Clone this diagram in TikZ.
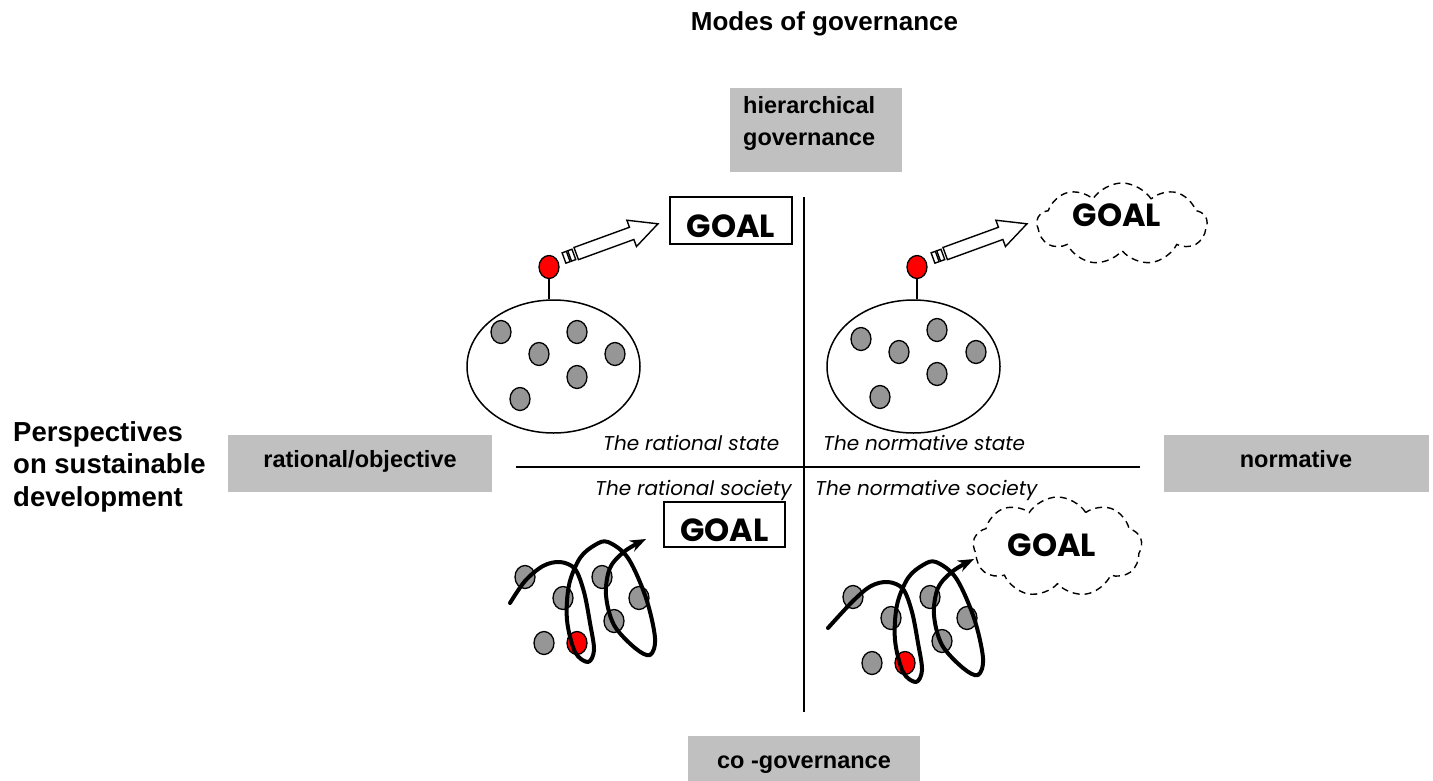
\documentclass[tikz,border=0pt]{standalone}
\usepackage{fontspec}
\setmainfont{Liberation Sans}
\newfontfamily\handfont{Poppins}
\usetikzlibrary{shapes.geometric,shapes.symbols,arrows.meta}
\definecolor{boxgray}{RGB}{192,192,192}
\definecolor{dotgray}{RGB}{150,150,150}
\definecolor{pinred}{RGB}{255,0,0}
\tikzset{
  gbox/.style={fill=boxgray, inner sep=0pt, text height=14pt, text depth=6pt,
    font=\bfseries\fontsize{23.5}{28}\selectfont},
  axisline/.style={line width=2.4pt},
  member/.style={ellipse, draw, line width=1.3pt, fill=dotgray,
    minimum width=20pt, minimum height=23pt, inner sep=0pt},
  leader/.style={member, fill=pinred},
  society/.style={ellipse, draw, line width=1.5pt, minimum width=173pt,
    minimum height=133pt, inner sep=0pt},
  goalbox/.style={draw, line width=1.5pt, inner sep=0pt, text height=33pt, text depth=0pt,
    font=\handfont\bfseries\fontsize{32}{38}\selectfont},
  goalcloud/.style={cloud, draw, cloud puffs=9, cloud puff arc=115, cloud ignores aspect,
    dash pattern=on 7pt off 5pt, line width=1.4pt, inner sep=0pt},
  goaltext/.style={font=\handfont\bfseries\fontsize{32}{38}\selectfont, inner sep=0pt, anchor=base},
  quadlabel/.style={font=\handfont\itshape\fontsize{20}{24}\selectfont, inner sep=0pt, anchor=base west},
  pathway/.style={line width=4pt, line cap=round, line join=round,
    -{Stealth[length=16pt,width=12pt]}},
  hollowarrow/.style={draw, fill=white, line width=1.4pt, line join=miter},
  stalk/.style={line width=1.3pt},
  pics/launcher/.style={code={
    \draw[hollowarrow] (0,-5.5) rectangle (4.5,5.5);
    \draw[hollowarrow] (6,-5.5) rectangle (10.5,5.5);
    \draw[hollowarrow] (13,-6.5) -- (72,-6.5) -- (72,-14) -- (100,0) -- (72,14)
      -- (72,6.5) -- (13,6.5) -- cycle;
  }},
}
\begin{document}
\begin{tikzpicture}[x=1pt,y=-1pt]
\useasboundingbox[fill=white] (0,0) rectangle (1433,780);

% headings
\node[font=\bfseries\fontsize{26}{30}\selectfont, anchor=base, inner sep=0pt] (title)
  at (824.5,30) {Modes of governance};
\node[font=\bfseries\fontsize{27.5}{32.5}\selectfont, align=left, anchor=north west, inner sep=0pt]
  (persp) at (13,421) {Perspectives\\on sustainable\\development};

% grey category boxes
\node[fill=boxgray, minimum width=172pt, minimum height=84pt, inner sep=0pt] (hier) at (816,130) {};
\node[font=\bfseries\fontsize{23.5}{32}\selectfont, align=left, anchor=north west, inner sep=0pt]
  (hiertext) at (743,96) {hierarchical\\governance};
\node[gbox, minimum width=264pt, minimum height=57pt] (rational) at (360,463.5) {rational/objective};
\node[gbox, minimum width=265pt, minimum height=57pt] (normative) at (1296,463.5) {normative};
\node[gbox, minimum width=232pt, minimum height=56pt] (cogov) at (804,764) {co -governance};

% axes
\coordinate (vtop) at (804,197);
\coordinate (vbot) at (804,712);
\coordinate (hleft) at (516,467);
\coordinate (hright) at (1140,467);
\draw[axisline] (vtop) -- (vbot);
\draw[axisline] (hleft) -- (hright);

% quadrant captions
\node[quadlabel] (capRS) at (603,450) {The rational state};
\node[quadlabel] (capNS) at (823,450) {The normative state};
\node[quadlabel] (capRSoc) at (595,495) {The rational society};
\node[quadlabel] (capNSoc) at (815,495) {The normative society};

% ---- the rational state ----
\node[society] (stateA) at (553.5,366.5) {};
\node[member] at (501,332) {};
\node[member] at (577,332) {};
\node[member] at (539,354) {};
\node[member] at (615,354) {};
\node[member] at (577,377) {};
\node[member] at (520,399) {};
\node[leader] (pinA) at (549,267) {};
\draw[stalk] (pinA.south) -- (pinA.south |- stateA.north);
\coordinate (tailA) at (564,258);
\pic[rotate=20] at (tailA) {launcher};
\node[goalbox, minimum width=122pt, minimum height=47pt] (goalA) at (731,220.5) {GOAL};

% ---- the normative state ----
\node[society] (stateB) at (913.5,366.5) {};
\node[member] at (861,339) {};
\node[member] at (937,330) {};
\node[member] at (899,352) {};
\node[member] at (976,352) {};
\node[member] at (937,374) {};
\node[member] at (880,397) {};
\node[leader] (pinB) at (917,267) {};
\draw[stalk] (pinB.south) -- (pinB.south |- stateB.north);
\coordinate (tailB) at (933,258);
\pic[rotate=20] at (tailB) {launcher};
\node[goalcloud, minimum width=170pt, minimum height=82pt] (cloudB) at (1122,224) {};
\node[goaltext] (goalB) at (1117,226) {GOAL};

% ---- the rational society ----
\node[goalbox, minimum width=121pt, minimum height=45pt] (goalC) at (724.5,524.5) {GOAL};
\begin{scope}
  \node[member] at (525,577) {};
  \node[member] at (563,598) {};
  \node[member] at (602,577) {};
  \node[member] at (639,598) {};
  \node[member] at (614,621) {};
  \node[member] at (544,643) {};
  \node[leader] at (577,643) {};
  \draw[pathway] plot[smooth, tension=0.55] coordinates {
    (510,603) (525,581) (543,566) (560,562) (575,569) (584,592) (590,623) (594,650)
    (588,662) (575,652) (567,620) (569,585) (580,558) (595,545) (608,542) (628,558)
    (646,598) (655,638) (650,655) (635,648) (614,625) (606,595) (610,568) (625,551)
    (646,539)};
\end{scope}

% ---- the normative society ----
\node[goalcloud, minimum width=169pt, minimum height=100pt] (cloudD) at (1057.5,547) {};
\node[goaltext] (goalD) at (1052,556) {GOAL};
\begin{scope}[shift={(328,20)}]
  \node[member] at (525,577) {};
  \node[member] at (563,598) {};
  \node[member] at (602,577) {};
  \node[member] at (639,598) {};
  \node[member] at (614,621) {};
  \node[member] at (544,643) {};
  \node[leader] at (577,643) {};
  \draw[pathway] plot[smooth, tension=0.55] coordinates {
    (500,608) (525,581) (543,566) (560,562) (575,569) (584,592) (590,623) (594,650)
    (588,662) (575,652) (567,620) (569,585) (580,558) (595,545) (608,542) (628,558)
    (646,598) (655,638) (650,655) (635,648) (614,625) (606,595) (610,568) (625,551)
    (646,539)};
\end{scope}
\end{tikzpicture}
\end{document}
